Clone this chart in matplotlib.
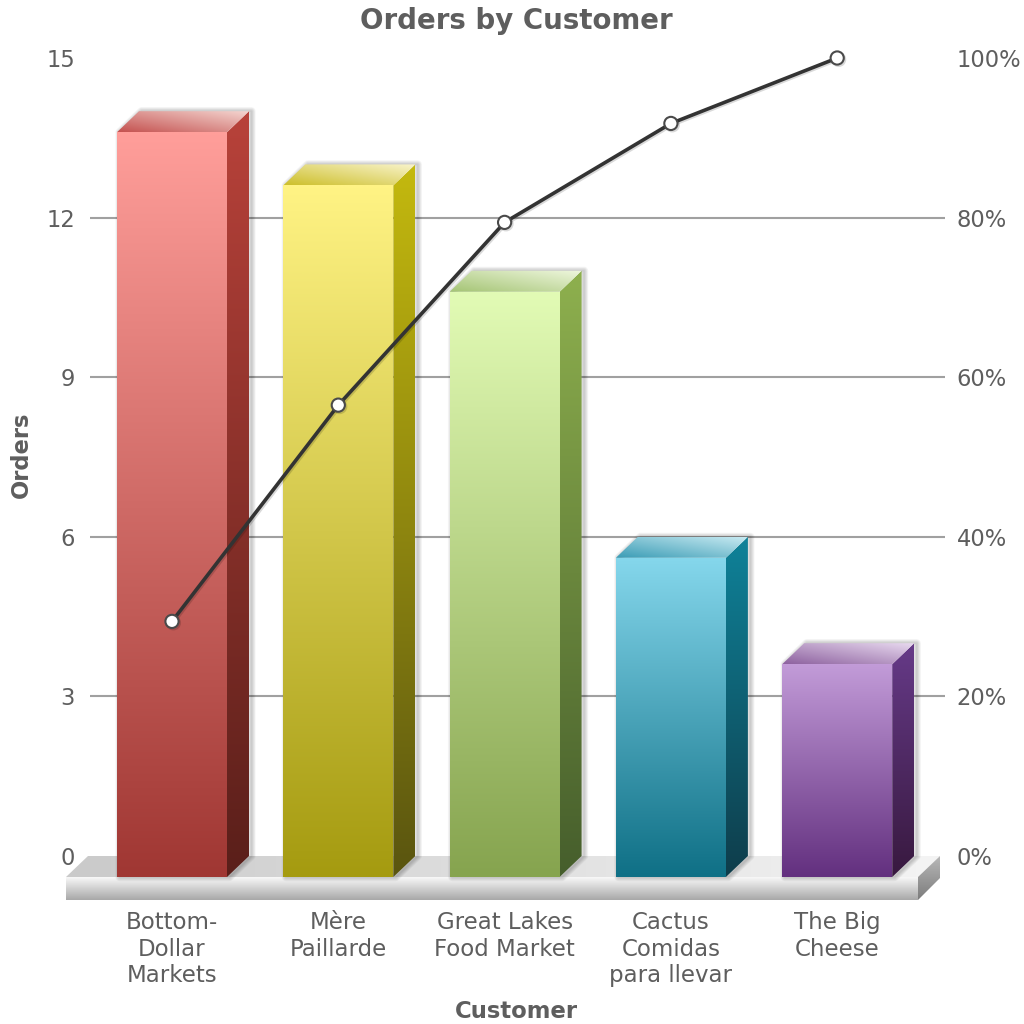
import numpy as np
import matplotlib
matplotlib.use("Agg")
import matplotlib.pyplot as plt
import matplotlib.patheffects as pe
from matplotlib.colors import to_rgb
from matplotlib.patches import Polygon

customers = ["Bottom-\nDollar\nMarkets", "Mère\nPaillarde", "Great Lakes\nFood Market", "Cactus\nComidas\npara llevar", "The Big\nCheese"]
orders = [14, 13, 11, 6, 4]
cumulative_pct = [29.4, 56.5, 79.4, 91.8, 100]
order_ticks = [0, 3, 6, 9, 12, 15]
grid_ticks = [3, 6, 9, 12]
pct_ticks = [0, 20, 40, 60, 80, 100]

# front top, front bottom, side top, side bottom, lid low, lid high
bar_colors = [
    ["#ff9e9a", "#a03733", "#b8423a", "#5a1f1a", "#c4514f", "#f5d8d3"],
    ["#fff384", "#a59b10", "#c4b90e", "#5a5510", "#cdbf2a", "#f9f4cc"],
    ["#e2fbb5", "#86a44f", "#8eb04e", "#465e2c", "#a4c474", "#eff7de"],
    ["#85d7ec", "#0f7086", "#0e8299", "#0f3d4b", "#3a9cb5", "#c8eaf2"],
    ["#c29bd8", "#63307f", "#663a88", "#38193f", "#8d619f", "#e8d9ef"],
]

text_color = "#5e5e5e"

# pixel geometry of the reference, turned into data units
px_per_cat = 166.3
px_per_order = 53.2
depth_x = 22 / px_per_cat
depth_y = 22 / px_per_order
half_w = 55 / px_per_cat
x_left = (66 - 172) / px_per_cat
x_right = (945 - 172) / px_per_cat
x_grid = (90 - 172) / px_per_cat
x_base_right = (918 - 172) / px_per_cat
y_front = -(877 - 856) / px_per_order
y_bottom = -(900 - 856) / px_per_order
shadow_shift = 2.5 / px_per_cat

fig = plt.figure(figsize=(10.24, 10.24), dpi=100)
ax = fig.add_axes([66 / 1024, 1 - 900 / 1024, (945 - 66) / 1024, (900 - 58) / 1024])


def gradient(ax, pts, c1, c2, mode, z):
    # c1 -> c2 from top to bottom ("v"), left to right ("h") or lower left to upper right ("d")
    a, b = np.array(to_rgb(c1)), np.array(to_rgb(c2))
    u, v = np.meshgrid(np.linspace(0, 1, 128), np.linspace(0, 1, 128))
    if mode == "v":
        t = v
    elif mode == "h":
        t = u
    else:
        t = (u + (1 - v)) / 2
    img = a + (b - a) * t[..., None]
    xs = [p[0] for p in pts]
    ys = [p[1] for p in pts]
    im = ax.imshow(img, extent=[min(xs), max(xs), min(ys), max(ys)], aspect="auto",
                   interpolation="bilinear", zorder=z)
    poly = Polygon(pts, closed=True, transform=ax.transData, fc="none", ec="none")
    ax.add_patch(poly)
    im.set_clip_path(poly)


def soft_shadow(ax, pts, z):
    pts = [(x + shadow_shift, y) for x, y in pts]
    for lw in [1, 2, 3, 4, 5, 6]:
        ax.add_patch(Polygon(pts, closed=True, fc="none", ec="black", lw=lw, alpha=0.035,
                             joinstyle="round", zorder=z))


# base the bars stand on
base_top = [(x_left, y_front), (x_left + depth_x, 0), (x_base_right + depth_x, 0), (x_base_right, y_front)]
base_front = [(x_left, y_bottom), (x_left, y_front), (x_base_right, y_front), (x_base_right, y_bottom)]
base_side = [(x_base_right, y_front), (x_base_right + depth_x, 0), (x_base_right + depth_x, y_bottom + depth_y), (x_base_right, y_bottom)]
gradient(ax, base_top, "#cacaca", "#f4f4f4", "h", 1)
gradient(ax, base_front, "#f8f8f8", "#a8a8a8", "v", 1)
gradient(ax, base_side, "#b8b8b8", "#7c7c7c", "v", 1)

ax.hlines(grid_ticks, x_grid, x_right, color="#a0a0a0", lw=1.5, zorder=1.5)

for i, (val, cols) in enumerate(zip(orders, bar_colors)):
    l, r = i - half_w, i + half_w
    top_f = val + y_front
    front = [(l, y_front), (l, top_f), (r, top_f), (r, y_front)]
    side = [(r, y_front), (r, top_f), (r + depth_x, val), (r + depth_x, 0)]
    lid = [(l, top_f), (l + depth_x, val), (r + depth_x, val), (r, top_f)]
    outline = [(l, y_front), (l, top_f), (l + depth_x, val), (r + depth_x, val), (r + depth_x, 0), (r, y_front)]
    soft_shadow(ax, outline, 2)
    gradient(ax, front, cols[0], cols[1], "v", 3)
    gradient(ax, side, cols[2], cols[3], "v", 3)
    gradient(ax, lid, cols[4], cols[5], "d", 3)

ax.set_xlim(x_left, x_right)
ax.set_ylim(y_bottom, 15)
ax.set_xticks(range(len(customers)))
ax.set_xticklabels(customers, linespacing=1.19)
ax.set_yticks(order_ticks)
ax.tick_params(axis="x", length=0, pad=8, labelsize=16.5, labelcolor=text_color)
ax.tick_params(axis="y", length=0, pad=-6.5, labelsize=16.3, labelcolor=text_color)
for s in ax.spines.values():
    s.set_visible(False)
ax.patch.set_alpha(0)

ax2 = ax.twinx()
ax2.set_ylim(y_bottom / 15 * 100, 100)
ax2.set_yticks(pct_ticks)
ax2.set_yticklabels([str(p) + "%" for p in pct_ticks])
ax2.tick_params(axis="y", length=0, pad=8.5, labelsize=16.3, labelcolor=text_color)
for s in ax2.spines.values():
    s.set_visible(False)
ax2.plot(range(len(customers)), cumulative_pct, color="#333333", lw=2.6, marker="o", ms=9.5,
         mfc="white", mec="#4a4a4a", mew=1.5, clip_on=False, zorder=5,
         path_effects=[pe.SimpleLineShadow(offset=(1, -1), alpha=0.15), pe.Normal()])

fig.text(516 / 1024, 1 - 21 / 1024, "Orders by Customer", ha="center", va="center",
         fontsize=19.9, fontweight="bold", color=text_color)
fig.text(516 / 1024, 1 - 1011 / 1024, "Customer", ha="center", va="center",
         fontsize=16.4, fontweight="bold", color=text_color)
fig.text(21 / 1024, 1 - 455 / 1024, "Orders", ha="center", va="center", rotation=90,
         fontsize=16.3, fontweight="bold", color=text_color)

fig.savefig("out.png", dpi=100)
